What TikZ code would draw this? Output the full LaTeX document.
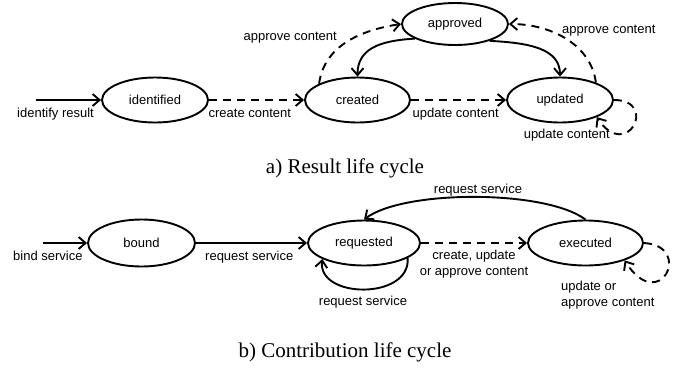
\documentclass[tikz,border=0pt]{standalone}
\usepackage{fontspec}
\setmainfont{Liberation Serif}
\newfontfamily\arialfont{Liberation Sans}
\usepackage{tikz}
\usetikzlibrary{arrows.meta}
\usetikzlibrary{shapes.geometric}
\tikzstyle{state} = [draw, ellipse,
	line width=1.9pt,
	inner sep=0pt,
	minimum width=106pt,
	minimum height=45pt,
	font=\arialfont\fontsize{13}{16}\selectfont]
\tikzstyle{trans} = [-{Straight Barb[length=7pt,width=12pt]}, line width=1.9pt]
\tikzstyle{dtrans} = [trans, dash pattern=on 8pt off 6pt]
\tikzstyle{lbl} = [font=\arialfont\fontsize{13}{16}\selectfont, inner sep=0pt]
\tikzstyle{lblb} = [lbl, anchor=base, yshift=-17pt]
\tikzstyle{caption} = [font=\fontsize{21}{25}\selectfont, inner sep=0pt, anchor=base]

\begin{document}
\begin{tikzpicture}[x=1pt, y=-1pt]
	\useasboundingbox (0,0) rectangle (675,368);

	\coordinate (ra) at (36,100);
	\node (ident) [state] at (155,100) {identified};
	\node (created) [state, minimum width=105pt] at (357.5,100) {created};
	\node (approved) [state, minimum height=42pt] at (455,24) {approved};
	\node (updated) [state] at (560,100) {updated};

	\draw [trans] (ra) -- (ident.west) node [lblb, pos=0.3] (l-ir) {identify result};
	\draw [dtrans] (ident.east) -- (created.west) node [lblb, pos=0.43] (l-cc) {create content};
	\draw [dtrans] (created.east) -- (updated.west) node [lblb, pos=0.47] (l-uc) {update content};
	\draw [dtrans] (created.157) .. controls +(5,-38) and +(-40,6) .. (approved.west);
	\draw [trans] (approved.-160) .. controls +(-35,2) and +(0,-28) .. (created.north);
	\draw [trans] (approved.-26) .. controls +(40,2) and +(0,-28) .. (updated.north);
	\draw [dtrans] (updated.26) .. controls +(-5,-38) and +(42,0) .. (approved.east);
	\draw [dtrans] (updated.east) .. controls +(45,0) and +(30,45) .. (updated.-25);
	\node (l-ac1) [lbl, anchor=base east] at (337,40) {approve content};
	\node (l-ac2) [lbl, anchor=base west] at (562,33) {approve content};
	\node (l-uc2) [lbl, anchor=base east] at (610,138) {update content};
	\node (cap-a) [caption] at (345,173) {a) Result life cycle};

	\coordinate (bs) at (43,243);
	\node (bound) [state, minimum width=107pt, minimum height=47pt] at (141.5,243) {bound};
	\node (requested) [state, minimum width=112pt] at (364,243) {requested};
	\node (executed) [state, minimum width=115pt] at (585.5,243) {executed};

	\draw [trans] (bs) -- (bound.west) node [lblb, pos=0.11] (l-bs) {bind service};
	\draw [trans] (bound.east) -- (requested.west) node [lblb, pos=0.48] (l-rs) {request service};
	\draw [dtrans] (requested.east) -- (executed.west) node [lbl, align=center, anchor=north, pos=0.5, yshift=-6.5pt] (l-cua) {create, update\\or approve content};
	\draw [trans] (executed.north) .. controls +(-40,-30) and +(40,-30) .. (requested.north);
	\draw [trans] (requested.-19) .. controls +(3,42) and +(-5,40) .. (requested.201);
	\draw [dtrans] (executed.east) .. controls +(50,3) and +(35,55) .. (executed.-24);
	\node (l-rs2) [lbl, anchor=base] at (478,193) {request service};
	\node (l-rs3) [lbl, anchor=base] at (363,305) {request service};
	\node (l-ua) [lbl, align=left, anchor=north west] at (561,280.7) {update or\\approve content};
	\node (cap-b) [caption] at (345,357) {b) Contribution life cycle};
\end{tikzpicture}
\end{document}
